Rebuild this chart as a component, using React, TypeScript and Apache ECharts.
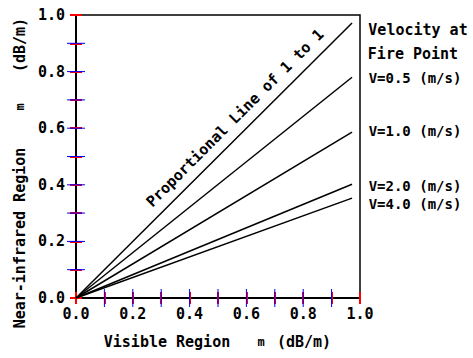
import React, { useEffect, useRef } from "react";
import * as echarts from "echarts";

const seriesNames = ["Proportional Line of 1 to 1", "V=0.5 (m/s)", "V=1.0 (m/s)", "V=2.0 (m/s)", "V=4.0 (m/s)"];
const lineStartX = 0;
const lineEndX = 0.972;
const lineEndY = [0.972, 0.78, 0.586, 0.402, 0.353];
const tickLabels = ["0.0", "0.2", "0.4", "0.6", "0.8", "1.0"];
const tickValues = [0.1, 0.2, 0.3, 0.4, 0.5, 0.6, 0.7, 0.8, 0.9];
const legendTitle = ["Velocity at", "Fire Point"];

const FONT = "DejaVu Sans Mono";

export default function App() {
  const ref = useRef<HTMLDivElement>(null);
  useEffect(() => {
    if (!ref.current) return;
    const chart = echarts.init(ref.current, null, { renderer: "svg" });
    const fmt = (v: number) => {
      const k = Math.round(v * 10);
      return k % 2 === 0 ? tickLabels[k / 2] : "";
    };
    const base = { type: "value", min: 0, max: 1, interval: 0.1, splitLine: { show: false } };
    const tick = { show: true, length: 6, lineStyle: { color: "red", width: 2 } };
    const labelStyle = { color: "#000", fontFamily: FONT, fontWeight: "bold", fontSize: 15 };
    const line = { show: true, lineStyle: { color: "#000", width: 2 } };
    const textStyle = (t: string, size: number) => ({
      text: t,
      fill: "#000",
      fontFamily: FONT,
      fontWeight: "bold",
      fontSize: size,
      textAlign: "center",
      textVerticalAlign: "middle",
    });
    const T = 9;
    chart.setOption({
      animation: false,
      grid: { left: 76, right: 113, top: 15, bottom: 60, show: true, borderColor: "#000", borderWidth: 1.5 },
      xAxis: [
        { ...base, position: "bottom", axisLine: line, axisTick: tick, axisLabel: { ...labelStyle, margin: 8, formatter: fmt } },
        { ...base, position: "bottom", axisLine: { show: false }, axisTick: { ...tick, inside: true }, axisLabel: { show: false } },
      ],
      yAxis: [
        { ...base, position: "left", axisLine: line, axisTick: tick, axisLabel: { ...labelStyle, margin: 11, formatter: fmt } },
        { ...base, position: "left", axisLine: { show: false }, axisTick: { ...tick, inside: true }, axisLabel: { show: false } },
      ],
      series: [
        ...seriesNames.map((name, i) => ({
          name,
          type: "line",
          symbol: "none",
          lineStyle: { color: "#000", width: 1.5 },
          data: [
            [lineStartX, 0],
            [lineEndX, lineEndY[i]],
          ],
        })),
        {
          type: "custom",
          clip: false,
          silent: true,
          z: 10,
          data: tickValues.map((v) => [v, v]),
          renderItem: (params: any, api: any) => {
            const v = api.value(0);
            const px = api.coord([v, 0]);
            const py = api.coord([0, v]);
            const st = { stroke: "blue", lineWidth: 1 };
            return {
              type: "group",
              children: [
                { type: "line", shape: { x1: px[0], y1: px[1] - T, x2: px[0], y2: px[1] + T }, style: st },
                { type: "line", shape: { x1: py[0] - T, y1: py[1], x2: py[0] + T, y2: py[1] }, style: st },
              ],
            };
          },
        },
      ],
      graphic: [
        { type: "text", x: 235, y: 118, rotation: Math.PI / 4, style: textStyle(seriesNames[0], 15) },
        { type: "text", x: 418, y: 30, style: textStyle(legendTitle[0], 15) },
        { type: "text", x: 413, y: 54, style: textStyle(legendTitle[1], 15) },
        { type: "text", x: 415, y: 78, style: textStyle(seriesNames[1], 14) },
        { type: "text", x: 415, y: 131, style: textStyle(seriesNames[2], 14) },
        { type: "text", x: 415, y: 186, style: textStyle(seriesNames[3], 14) },
        { type: "text", x: 415, y: 204, style: textStyle(seriesNames[4], 14) },
        { type: "text", x: 167, y: 342, style: textStyle("Visible Region", 15) },
        { type: "text", x: 261, y: 342, style: textStyle("m", 12) },
        { type: "text", x: 304, y: 342, style: textStyle("(dB/m)", 15) },
        { type: "text", x: 20, y: 238, rotation: Math.PI / 2, style: textStyle("Near-infrared Region", 15) },
        { type: "text", x: 20, y: 107, rotation: Math.PI / 2, style: textStyle("m", 12) },
        { type: "text", x: 20, y: 45, rotation: Math.PI / 2, style: textStyle("(dB/m)", 15) },
      ],
    });
    return () => chart.dispose();
  }, []);
  return <div ref={ref} style={{ position: "absolute", left: 0, top: 0, width: 473, height: 358, background: "#fff" }} />;
}
